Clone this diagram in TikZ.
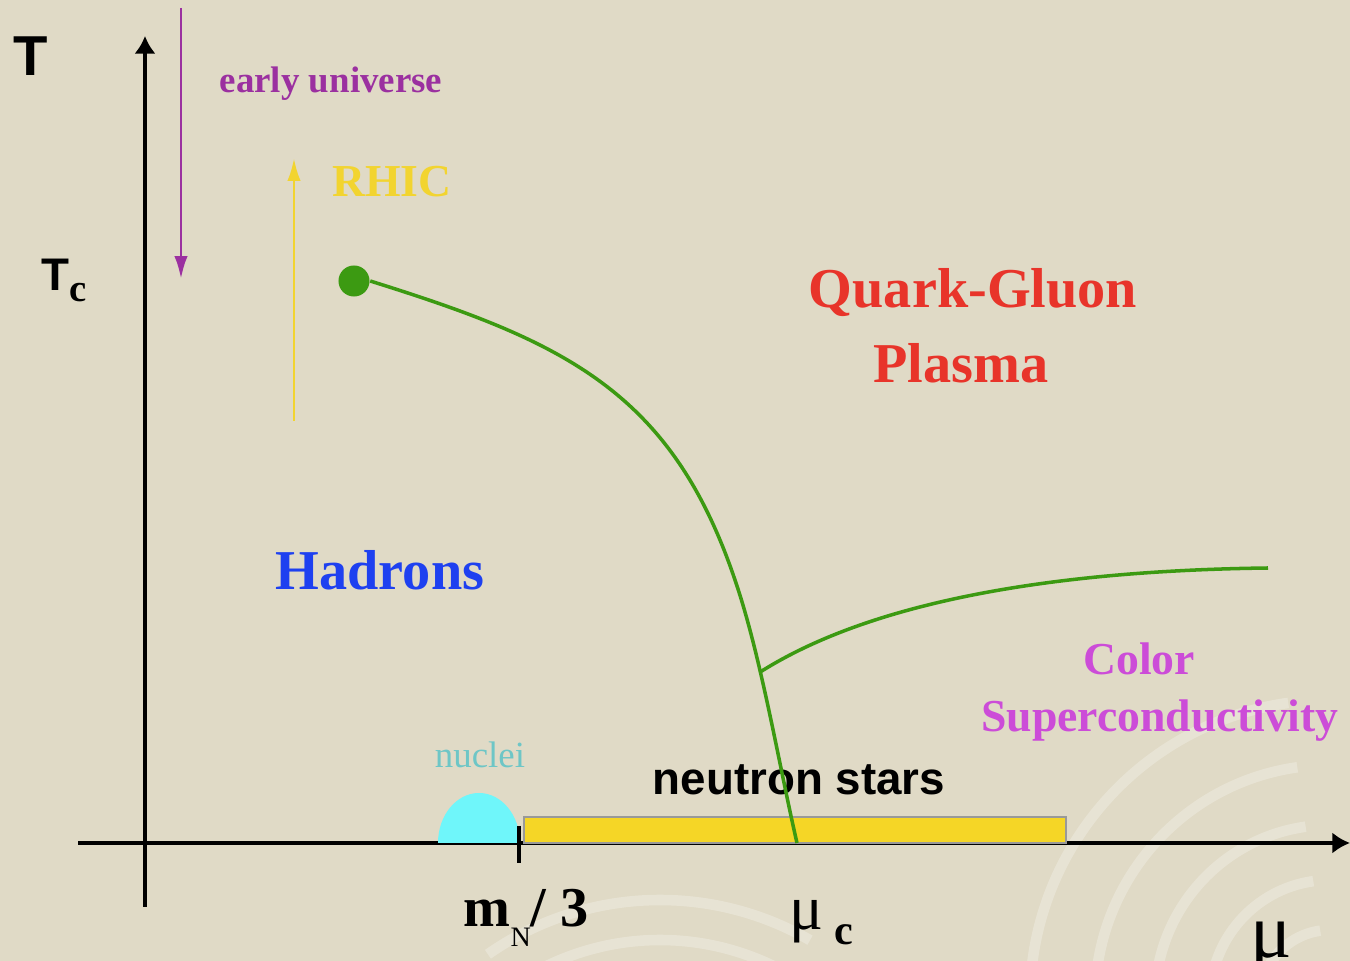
\documentclass[tikz,border=0pt]{standalone}
\usepackage{fontspec}
\setmainfont{Liberation Serif}
\setsansfont{Liberation Sans}
\usepackage{xcolor}
\usepackage{tikz}
\usetikzlibrary{arrows.meta}

\definecolor{paper}{HTML}{E0DAC6}
\definecolor{qgpred}{HTML}{E8342A}
\definecolor{hadblue}{HTML}{1E40F0}
\definecolor{cscmag}{HTML}{CC4CD8}
\definecolor{eupurp}{HTML}{9B30A0}
\definecolor{rhicyel}{HTML}{F2D430}
\definecolor{nucteal}{HTML}{6EC6C6}
\definecolor{nuccyan}{HTML}{6FF6FA}
\definecolor{nsyel}{HTML}{F5D626}
\definecolor{pbgreen}{HTML}{3C9A12}

\newcommand{\fs}[1]{\fontsize{#1}{#1}\selectfont}

\begin{document}
\begin{tikzpicture}[x=0.01cm,y=-0.01cm,every node/.style={inner sep=0pt},
  axis/.style={line width=0.9pt,-{Latex[length=5pt,width=6pt]}},
  probe/.style={line width=0.85pt,-{Latex[length=6.5pt,width=3.8pt]}},
  phase/.style={pbgreen,line width=1pt},
  region/.style={font=\bfseries\fs{16},anchor=base},
  swirl/.style={white,opacity=0.25,line width=3pt}]
  % background and faint swirls
  \clip (0,0) rectangle (1350,961);
  \fill[paper] (0,0) rectangle (1350,961);
  \foreach \r in {70,120,175,235,300}
    \draw[swirl] (1330,1000) ++(180:\r) arc[start angle=180,end angle=262,radius=\r];
  \foreach \r in {260,300}
    \draw[swirl] (660,1200) ++(235:\r) arc[start angle=235,end angle=300,radius=\r];

  % axes
  \coordinate (Tbot) at (145,907);
  \coordinate (Ttop) at (145,36);
  \coordinate (mleft) at (78,843);
  \coordinate (mright) at (1350,843);
  \draw[axis] (Tbot) -- (Ttop);
  \draw[axis] (mleft) -- (mright);
  \node[font=\sffamily\bfseries\fs{16},anchor=base] (Tlab) at (31,76) {T};
  \node[anchor=base west] (Tclab) at (41,291)
    {\sffamily\bfseries\fs{13}T\raisebox{-3pt}{\rmfamily\bfseries\fs{11}c}};

  % nuclei and neutron stars
  \fill[nuccyan] (438,843) arc[start angle=180,end angle=360,x radius=41,y radius=50];
  \draw[nsyel,draw=black!40,line width=0.3pt,fill=nsyel] (524,817) rectangle (1066,843);
  \coordinate (tick) at (519,843);
  \draw[line width=0.9pt] (519,826) -- (519,863);
  \node[nucteal,font=\fs{10.5},anchor=base] (nuclei) at (480,768) {nuclei};
  \node[font=\sffamily\bfseries\fs{13},anchor=base] (nstars) at (799,795) {neutron stars};
  \node[anchor=base west] (mN) at (463,927)
    {\bfseries\fs{16}m\raisebox{-5.5pt}{\mdseries\fs{8}N}/ 3};
  \node[anchor=base west] (muc) at (789,930)
    {\fs{18}μ\,\raisebox{-4pt}{\bfseries\fs{12}c}};
  \node[font=\fs{22},anchor=base] (mu) at (1271,958) {μ};

  % probes
  \coordinate (eutop) at (181,8);
  \coordinate (eubot) at (181,279);
  \draw[probe,eupurp] (eutop) -- (eubot);
  \node[eupurp,font=\bfseries\fs{10.5},anchor=base] (eu) at (331,93) {early universe};
  \coordinate (rhicbot) at (294,421);
  \coordinate (rhictop) at (294,158);
  \draw[probe,rhicyel] (rhicbot) -- (rhictop);
  \node[rhicyel,font=\bfseries\fs{13},anchor=base] (rhic) at (392,197) {RHIC};

  % phase boundaries
  \node[circle,fill=pbgreen,minimum size=0.31cm] (cep) at (354,281) {};
  \coordinate (bend) at (735,580);
  \coordinate (muend) at (797,843);
  \coordinate (cscend) at (1268,568);
  \draw[phase] (cep.east) .. controls (562,341) and (671,390) .. (bend)
    .. controls (761,656) and (779,765) .. coordinate[pos=0.36] (triple) (muend);
  \draw[phase] (triple) .. controls (890,590) and (1100,570) .. (cscend);

  % regions
  \node[region,qgpred] (qg) at (973,308) {Quark-Gluon};
  \node[region,qgpred] (pl) at (961,383) {Plasma};
  \node[region,hadblue] (had) at (380,590) {Hadrons};
  \node[region,cscmag,font=\bfseries\fs{13}] (col) at (1139,675) {Color};
  \node[region,cscmag,font=\bfseries\fs{13}] (sc) at (1160,732) {Superconductivity};
\end{tikzpicture}
\end{document}
